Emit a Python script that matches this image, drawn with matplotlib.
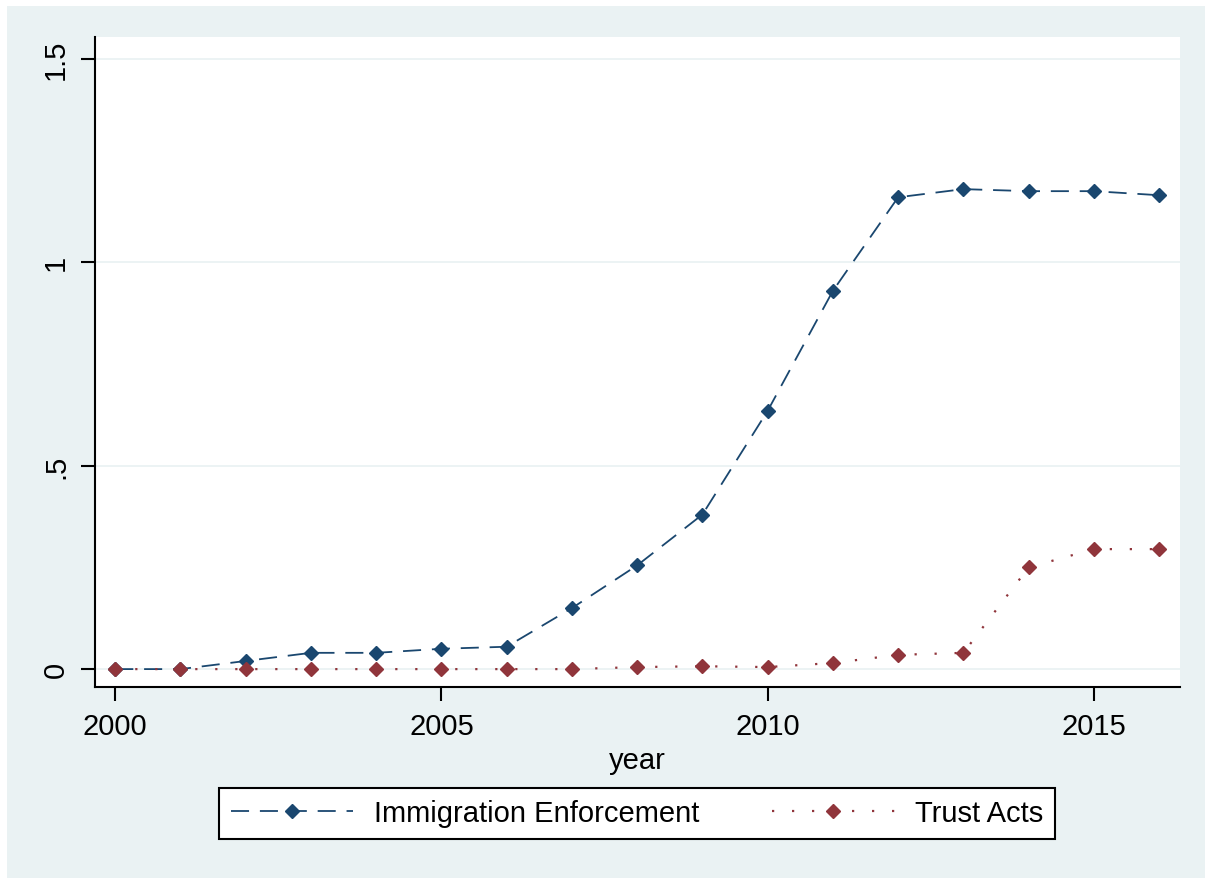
import numpy as np
import matplotlib.pyplot as plt
from matplotlib.patches import Rectangle

plt.rcParams['font.family'] = ['Liberation Sans', 'DejaVu Sans']

years = list(range(2000, 2017))
enforcement = [0, 0, 0.02, 0.04, 0.04, 0.05, 0.055, 0.15, 0.255, 0.38,
               0.635, 0.93, 1.16, 1.18, 1.175, 1.175, 1.165]
trust_acts = [0, 0, 0, 0, 0, 0, 0, 0, 0.005, 0.007,
              0.005, 0.015, 0.035, 0.04, 0.25, 0.295, 0.295]
yticks = [0, 0.5, 1, 1.5]
ytick_labels = ['0', '.5', '1', '1.5']
xticks = [2000, 2005, 2010, 2015]

bg = '#EAF2F3'
navy = '#1A476F'
maroon = '#90353B'

fig = plt.figure(figsize=(12.05, 8.79), dpi=100)
fig.patch.set_facecolor('white')
# stata-style outer region (thin white border at top and left)
fig.patches.append(Rectangle((7 / 1205, -0.01), 1.02, (879 - 7) / 879 + 0.01,
                             transform=fig.transFigure, facecolor=bg,
                             edgecolor='none', zorder=-10))

ax = fig.add_axes([95 / 1205, 1 - 688 / 879, (1180 - 95) / 1205, (688 - 38) / 879])
ax.set_facecolor('white')

ax.plot(years, enforcement, color=navy, linestyle=(0, (10, 6)), linewidth=1.3,
        marker='D', markersize=7.5, label='Immigration Enforcement')
ax.plot(years, trust_acts, color=maroon, linestyle=(0, (1, 8)), linewidth=1.6,
        marker='D', markersize=7.5, label='Trust Acts')

ax.set_xlim(1999.69, 2016.32)
ax.set_ylim(-0.044, 1.554)
ax.set_yticks(yticks)
ax.set_yticklabels(ytick_labels, rotation=90, va='center')
ax.set_xticks(xticks)
ax.grid(axis='y', color=bg, linewidth=1.3)
ax.set_axisbelow(True)

for side in ['top', 'right']:
    ax.spines[side].set_visible(False)
for side in ['left', 'bottom']:
    ax.spines[side].set_linewidth(1.5)
    ax.spines[side].set_color('black')

ax.tick_params(axis='both', direction='out', length=10, width=1.5,
               labelsize=21, colors='black', pad=8)
ax.set_xlabel('year', fontsize=21, labelpad=4)

leg = ax.legend(loc='center', bbox_to_anchor=(637 / 1205, 1 - 814.5 / 879),
                bbox_transform=fig.transFigure, ncol=2, fontsize=21,
                frameon=True, fancybox=False, edgecolor='black', framealpha=1,
                handlelength=4.2, columnspacing=2.5, numpoints=1,
                borderpad=0.4, handletextpad=0.7)
leg.get_frame().set_linewidth(1.5)

fig.savefig('out.png', dpi=100, facecolor=fig.get_facecolor())
